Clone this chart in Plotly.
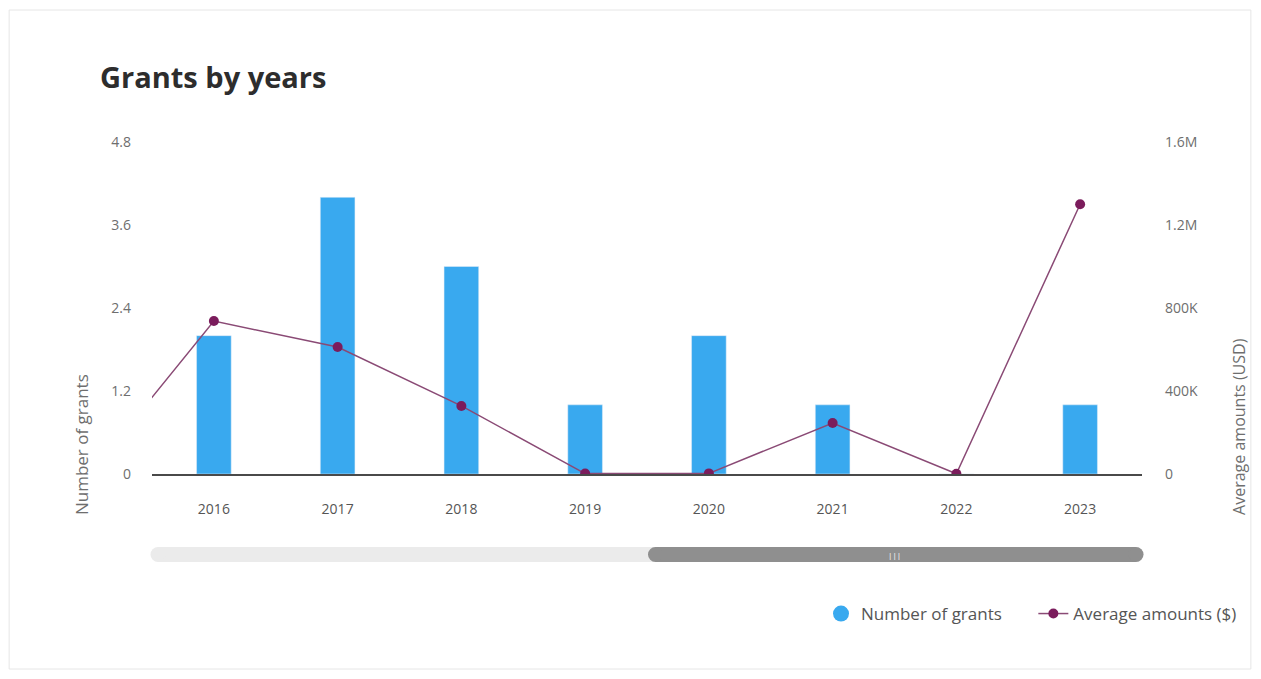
import plotly.graph_objects as go

years = ["2015", "2016", "2017", "2018", "2019", "2020", "2021", "2022", "2023"]
grants = [0, 2, 4, 3, 1, 2, 1, 0, 1]
avg_amounts = [2000, 737000, 612000, 328000, 2000, 3000, 246000, 1000, 1300000]

left_ticks = [0, 1.2, 2.4, 3.6, 4.8]
left_labels = ["0", "1.2", "2.4", "3.6", "4.8"]
right_ticks = [0, 400000, 800000, 1200000, 1600000]
right_labels = ["0", "400K", "800K", "1.2M", "1.6M"]

BLUE = "#39a9ef"
PURPLE = "#7b1c5c"
TICK = "#6e6e6e"
FONT = "Open Sans"

# page offset of 8px (body margin); figure sized to the visible area
OFF = 8
W, H = 1261 - 2 * OFF, 679 - 2 * OFF
PL, PR, PT, PB = 152 - OFF, 1143 - OFF, 142 - OFF, 474 - OFF
PW, PH = PR - PL, PB - PT


def px(x):  # screen x -> paper x
    return (x - OFF - PL) / PW


def py(y):  # screen y -> paper y
    return (PB - (y - OFF)) / PH


fig = go.Figure()
fig.add_trace(go.Bar(x=years, y=grants, name="Number of grants", marker_color=BLUE,
                     width=0.28, showlegend=False, yaxis="y"))
fig.add_trace(go.Scatter(x=years, y=avg_amounts, name="Average amounts ($)", mode="lines+markers",
                         line=dict(color="#8a4a75", width=1.5),
                         marker=dict(color=PURPLE, size=10), yaxis="y2",
                         showlegend=False))
# legend entries
fig.add_trace(go.Scatter(x=[None], y=[None], mode="markers", name="Number of grants      ",
                         marker=dict(color=BLUE, size=18, symbol="circle")))
fig.add_trace(go.Scatter(x=[None], y=[None], mode="lines+markers", name="Average amounts ($)",
                         line=dict(color="#8a4a75", width=1.5), marker=dict(color=PURPLE, size=10)))

shapes = []
# card frame
shapes.append(dict(type="rect", xref="paper", yref="paper", x0=px(9), x1=px(1252), y0=py(669), y1=py(10),
                   line=dict(color="#e6e6e6", width=1), fillcolor="rgba(0,0,0,0)", layer="below"))


def pill(x0, x1, color):
    yc = py(554.5)
    out = [dict(type="rect", xref="paper", yref="paper", x0=px(x0), x1=px(x1), y0=py(562), y1=py(547),
                line=dict(width=0), fillcolor=color)]
    for xa in (x0, x1):
        out.append(dict(type="circle", xref="paper", yref="paper", xsizemode="pixel", ysizemode="pixel",
                        xanchor=px(xa), yanchor=yc, x0=-7.5, x1=7.5, y0=-7.5, y1=7.5,
                        line=dict(width=0), fillcolor=color))
    return out


shapes += pill(158, 1137, "#ebebeb")
shapes += pill(656, 1137, "#8f8f8f")

fig.update_layout(
    width=W, height=H,
    paper_bgcolor="white", plot_bgcolor="white",
    margin=dict(l=PL, r=W - PR, t=PT, b=H - PB),
    font=dict(family=FONT, color=TICK, size=13),
    title=dict(text="<b>Grants by years</b>", x=(100 - OFF) / W, xanchor="left",
               y=1 - (78 - OFF) / H, yanchor="middle",
               font=dict(family=FONT, size=29, color="#2d2d2d")),
    xaxis=dict(type="category", range=[0.5, 8.5], showgrid=False, showline=True,
               linecolor="#4a4a4a", linewidth=2, ticks="", ticklabelstandoff=21,
               tickfont=dict(size=14, color="#555"), fixedrange=True),
    yaxis=dict(range=[0, 4.8], tickvals=left_ticks, ticktext=left_labels, showgrid=False,
               zeroline=False, showline=False, ticklabelstandoff=20,
               tickfont=dict(size=14, color=TICK)),
    yaxis2=dict(range=[0, 1600000], tickvals=right_ticks, ticktext=right_labels, overlaying="y",
                side="right", showgrid=False, zeroline=False, showline=False, ticklabelstandoff=22,
                tickfont=dict(size=14, color=TICK)),
    legend=dict(orientation="h", x=px(1242), xanchor="right", y=py(614), yanchor="middle",
                font=dict(size=17, color="#555"), itemwidth=30, bgcolor="rgba(0,0,0,0)"),
    shapes=shapes,
    annotations=[
        dict(text="Number of grants", xref="paper", yref="paper", x=px(81), y=py(445),
             xanchor="center", yanchor="middle",
             textangle=-90, showarrow=False, font=dict(size=17, color=TICK)),
        dict(text="Average amounts (USD)", xref="paper", yref="paper", x=px(1240), y=py(426),
             xanchor="center", yanchor="middle",
             textangle=-90, showarrow=False, font=dict(size=16, color=TICK)),
        dict(text="|||", xref="paper", yref="paper", x=px(895), y=py(554.5), showarrow=False,
             xanchor="center", yanchor="middle", font=dict(size=8, color="white")),
    ],
)

fig.write_html("out.html")
